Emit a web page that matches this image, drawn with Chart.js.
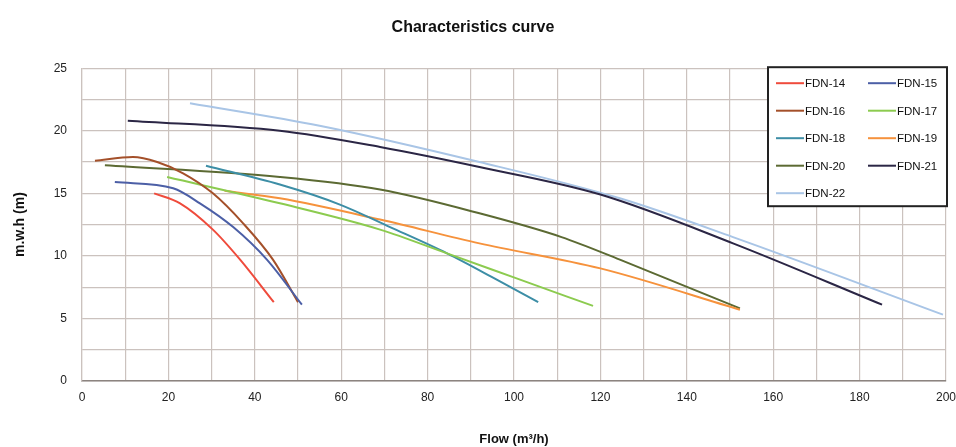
<!DOCTYPE html>
<html>
<head>
<meta charset="utf-8">
<title>Characteristics curve</title>
<script src="https://cdn.jsdelivr.net/npm/chart.js@4/dist/chart.umd.min.js"></script>
<style>
  html, body { margin: 0; padding: 0; background: #fff; }
  #chart { display: block; }
</style>
</head>
<body>
<canvas id="chart" width="956" height="447"></canvas>
<script>
// flow (m3/h) and head (m)
const seriesNames = ['FDN-14', 'FDN-15', 'FDN-16', 'FDN-17', 'FDN-18', 'FDN-19', 'FDN-20', 'FDN-21', 'FDN-22'];

const fdn14Flow = [16.7, 22.7, 30.3, 36.6, 44.4];
const fdn14Head = [15.0, 14.2, 12.1, 9.7, 6.3];

const fdn15Flow = [7.6, 21.1, 27.3, 35, 42.8, 50.9];
const fdn15Head = [15.9, 15.4, 14.2, 12.3, 9.7, 6.1];

const fdn16Flow = [3, 11.8, 17.4, 23.4, 30.3, 37.3, 44.2, 50];
const fdn16Head = [17.6, 17.9, 17.5, 16.6, 15.0, 12.6, 9.7, 6.3];

const fdn17Flow = [19.7, 45.8, 69, 84.5, 99.8, 118.3];
const fdn17Head = [16.3, 14.2, 12.1, 10.2, 8.3, 6.0];

const fdn18Flow = [28.7, 45.8, 59.7, 71.3, 84.5, 96, 105.6];
const fdn18Head = [17.2, 15.7, 14.1, 12.3, 10.2, 8.1, 6.3];

const fdn19Flow = [33, 45.8, 69, 92, 120, 152.3];
const fdn19Head = [15.2, 14.6, 12.9, 11.0, 9.0, 5.7];

const fdn20Flow = [5.3, 45.8, 69, 92, 111, 124.5, 152.3];
const fdn20Head = [17.25, 16.3, 15.3, 13.4, 11.5, 9.7, 5.8];

const fdn21Flow = [10.6, 45.8, 69, 92, 120, 150.7, 185.2];
const fdn21Head = [20.8, 20.0, 18.7, 17.1, 14.9, 11.0, 6.1];

const fdn22Flow = [25, 55, 92, 124.5, 150.7, 199.3];
const fdn22Head = [22.2, 20.4, 17.5, 14.6, 11.5, 5.3];

const flowTicks = [0, 20, 40, 60, 80, 100, 120, 140, 160, 180, 200];
const headTicks = [0, 5, 10, 15, 20, 25];

const flows = [fdn14Flow, fdn15Flow, fdn16Flow, fdn17Flow, fdn18Flow, fdn19Flow, fdn20Flow, fdn21Flow, fdn22Flow];
const heads = [fdn14Head, fdn15Head, fdn16Head, fdn17Head, fdn18Head, fdn19Head, fdn20Head, fdn21Head, fdn22Head];
const colors = ['#ef4b3c', '#4c5fa6', '#a4502a', '#8ccb4f', '#3d8ea6', '#f6923c', '#5c6a33', '#2b2645', '#a9c5e6'];

const datasets = seriesNames.map((name, i) => ({
    label: name,
    data: flows[i].map((x, j) => ({ x: x, y: heads[i][j] })),
    borderColor: colors[i],
    backgroundColor: colors[i],
    borderWidth: 2,
    pointRadius: 0,
    cubicInterpolationMode: 'monotone',
    fill: false
}));

// legend box drawn inside the plot, two columns
const boxLegend = {
    id: 'boxLegend',
    afterDraw(chart) {
        const ctx = chart.ctx;
        const area = chart.chartArea;
        const x0 = area.right - 178, y0 = area.top - 1, w = 179, h = 139;
        ctx.save();
        ctx.fillStyle = '#fff';
        ctx.fillRect(x0, y0, w, h);
        ctx.strokeStyle = '#222';
        ctx.lineWidth = 2;
        ctx.strokeRect(x0, y0, w, h);
        ctx.font = '11.5px "Liberation Sans", Arial, sans-serif';
        ctx.textBaseline = 'middle';
        ctx.fillStyle = '#111';
        chart.data.datasets.forEach((ds, i) => {
            const col = i % 2, row = Math.floor(i / 2);
            const lx = x0 + 8 + col * 92;
            const ly = y0 + 16 + row * 27.5;
            ctx.strokeStyle = ds.borderColor;
            ctx.lineWidth = 2;
            ctx.beginPath();
            ctx.moveTo(lx, ly);
            ctx.lineTo(lx + 28, ly);
            ctx.stroke();
            ctx.fillText(ds.label, lx + 29, ly + 1);
        });
        ctx.restore();
    }
};

const tickFont = { family: '"Liberation Sans Narrow", "Liberation Sans", Arial, sans-serif', size: 12 };
const titleFont = { family: '"Liberation Sans", Arial, sans-serif', size: 13, weight: 'bold' };

new Chart(document.getElementById('chart'), {
    type: 'line',
    data: { datasets: datasets },
    options: {
        responsive: false,
        animation: false,
        layout: { padding: { left: 0, right: 10, top: 0, bottom: 0 } },
        plugins: {
            legend: { display: false },
            tooltip: { enabled: false },
            title: {
                display: true,
                text: 'Characteristics curve',
                color: '#111',
                font: { family: '"Liberation Sans", Arial, sans-serif', size: 16, weight: 'bold' },
                padding: { top: 18, bottom: 31 }
            }
        },
        scales: {
            x: {
                type: 'linear',
                min: 0,
                max: 200,
                afterBuildTicks(scale) {
                    const t = [];
                    for (let v = 0; v <= 200; v += 10) t.push({ value: v });
                    scale.ticks = t;
                },
                afterFit(scale) {
                    scale.height = 66;
                    scale.paddingLeft = 0;
                    scale.paddingRight = 0;
                },
                ticks: {
                    autoSkip: false,
                    maxRotation: 0,
                    padding: 9,
                    color: '#222',
                    font: tickFont,
                    callback: (v) => flowTicks.includes(v) ? String(v) : ''
                },
                grid: { color: '#cbc2be', lineWidth: 1.2, drawTicks: false },
                border: { color: '#8c8480', width: 1.5 },
                title: {
                    display: true,
                    text: 'Flow (m³/h)',
                    color: '#111',
                    font: titleFont,
                    padding: { top: 18, bottom: 0 }
                }
            },
            y: {
                type: 'linear',
                min: 0,
                max: 25,
                afterBuildTicks(scale) {
                    const t = [];
                    for (let v = 0; v <= 25; v += 2.5) t.push({ value: v });
                    scale.ticks = t;
                },
                afterFit(scale) {
                    scale.width = 82;
                },
                ticks: {
                    autoSkip: false,
                    padding: 15,
                    color: '#222',
                    font: tickFont,
                    callback: (v) => headTicks.includes(v) ? String(v) : ''
                },
                grid: { color: '#cbc2be', lineWidth: 1.2, drawTicks: false },
                border: { color: '#cbc2be', width: 1.2 },
                title: {
                    display: true,
                    text: 'm.w.h (m)',
                    color: '#111',
                    font: { family: '"Liberation Sans", Arial, sans-serif', size: 14, weight: 'bold' },
                    padding: { top: 12, bottom: 0 }
                }
            }
        }
    },
    plugins: [boxLegend]
});
</script>
</body>
</html>
